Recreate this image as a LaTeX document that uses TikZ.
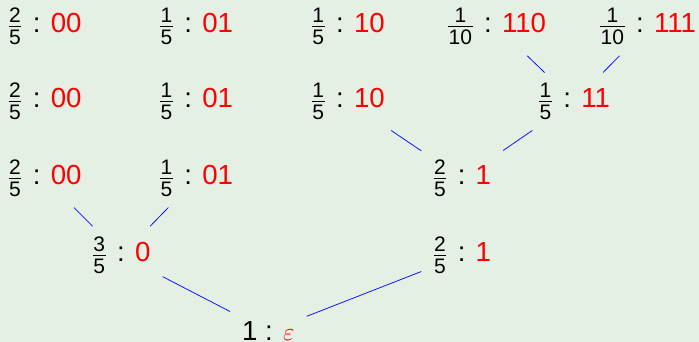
\documentclass[tikz,border=0pt]{standalone}
\usepackage{fontspec}
\setmainfont{Liberation Sans}
\definecolor{bgc}{RGB}{229,240,228}
\definecolor{codered}{RGB}{255,0,0}
\definecolor{linkblue}{RGB}{20,20,255}
\newcommand\pfrac[2]{\ensuremath{\vcenter{\offinterlineskip\fontsize{21}{21}\selectfont
  \halign{\hfil\kern0.5pt##\kern0.5pt\hfil\cr #1\cr\noalign{\kern3.2pt\hrule height 1.1pt\kern3.2pt}#2\cr}}}}
\newcommand\pcode[3]{\pfrac{#1}{#2}\hspace{3.9pt} : \textcolor{codered}{#3}}
\begin{document}
\begin{tikzpicture}[x=1pt,y=-1pt,
  lbl/.style={inner xsep=12pt, inner ysep=10.5pt, anchor=west, font=\fontsize{27.6}{33}\selectfont},
  link/.style={draw=linkblue, line width=0.8pt}]
\fill[bgc] (0,0) rectangle (699,342);
\useasboundingbox (0,0) rectangle (699,342);
% row 1
\node[lbl] (a1) at (-3.5,26.7)  {\pcode{2}{5}{00}};
\node[lbl] (b1) at (148,26.7)   {\pcode{1}{5}{01}};
\node[lbl] (c1) at (299.7,26.7) {\pcode{1}{5}{10}};
\node[lbl] (d1) at (436,26.7)   {\pcode{1}{10}{110}};
\node[lbl] (e1) at (588,26.7)   {\pcode{1}{10}{111}};
% row 2
\node[lbl] (a2) at (-3.5,101.5) {\pcode{2}{5}{00}};
\node[lbl] (b2) at (148,101.5)  {\pcode{1}{5}{01}};
\node[lbl] (c2) at (299.7,101.5){\pcode{1}{5}{10}};
\node[lbl] (d2) at (527,101.5)  {\pcode{1}{5}{11}};
% row 3
\node[lbl] (a3) at (-3.5,178.5) {\pcode{2}{5}{00}};
\node[lbl] (b3) at (148,178.5)  {\pcode{1}{5}{01}};
\node[lbl] (c3) at (421.3,178.5){\pcode{2}{5}{1}};
% row 4
\node[lbl] (a4) at (80.7,255.5) {\pcode{3}{5}{0}};
\node[lbl] (b4) at (421.3,255.5){\pcode{2}{5}{1}};
% root
\node[lbl, anchor=base west] (r) at (230,340.8) {1 : \textcolor{codered}{\fontsize{31}{31}\selectfont$\varepsilon$}};
% edges
\draw[link] (r) -- (a4);
\draw[link] (r) -- (b4);
\draw[link] (a4) -- (a3);
\draw[link] (a4) -- (b3);
\draw[link] (c3) -- (c2);
\draw[link] (c3) -- (d2);
\draw[link] (d2) -- (d1);
\draw[link] (d2) -- (e1);
\end{tikzpicture}
\end{document}
